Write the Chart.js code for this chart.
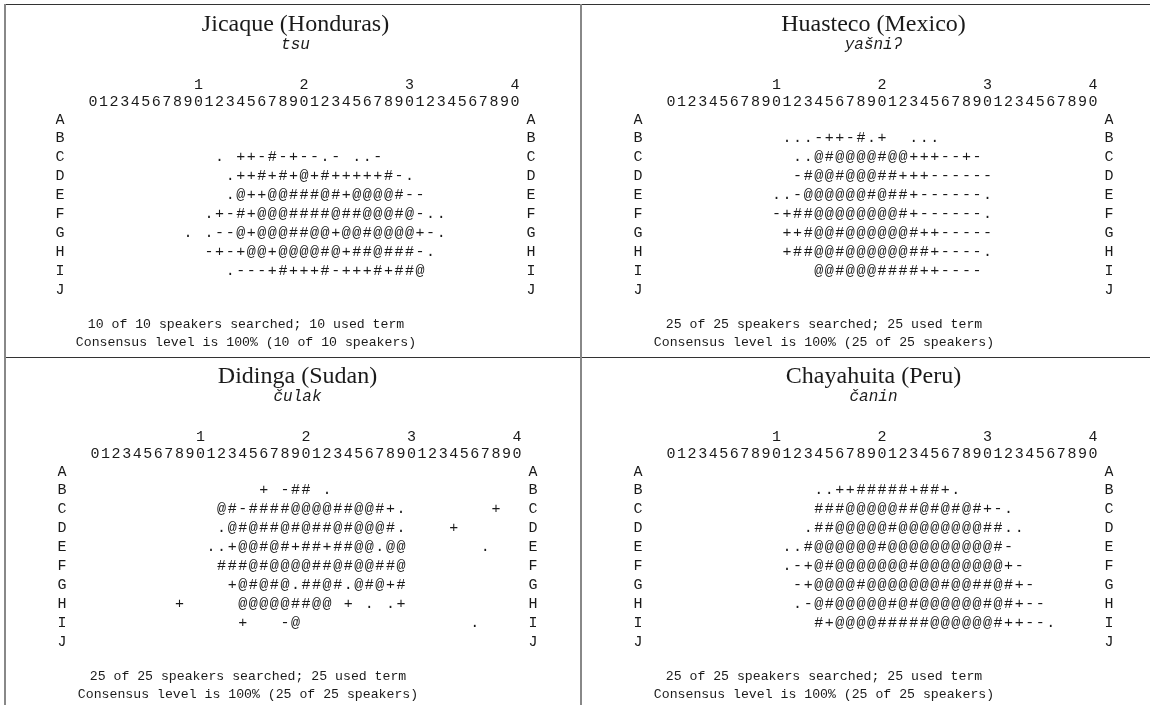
<!DOCTYPE html>
<html><head><meta charset="utf-8">
<script src="https://cdn.jsdelivr.net/npm/chart.js@4.4.1/dist/chart.umd.min.js"></script>
<style>
html,body{margin:0;padding:0;background:#fff;}
#wrap{position:relative;width:1150px;height:705px;overflow:hidden;background:#fff;}
.panel{position:absolute;width:576px;height:352px;}
.panel canvas{display:block;}
.hl{position:absolute;height:1px;background:#333;}
.vl{position:absolute;width:2px;background:#888;}
</style></head><body>
<div id="wrap">
  <div class="panel" style="left:5px;top:5px"><canvas id="c0" width="576" height="352"></canvas></div>
  <div class="panel" style="left:583px;top:5px"><canvas id="c1" width="576" height="352"></canvas></div>
  <div class="panel" style="left:7px;top:357px"><canvas id="c2" width="576" height="352"></canvas></div>
  <div class="panel" style="left:583px;top:357px"><canvas id="c3" width="576" height="352"></canvas></div>
  <div class="hl" style="left:5px;top:4px;width:1145px"></div>
  <div class="hl" style="left:5px;top:357px;width:1145px"></div>
  <div class="vl" style="left:4px;top:4px;height:701px"></div>
  <div class="vl" style="left:580px;top:4px;height:701px"></div>
</div>
<script>
// ---- tick labels ----
const rowLabels = ['A','B','C','D','E','F','G','H','I','J'];
const columnDigits = '01234567890123456789012345678901234567890'.split('');
const decadeColumns = [10, 20, 30, 40];
const decadeLabels = ['1', '2', '3', '4'];

// ---- panel texts ----
const languages = ['Jicaque (Honduras)', 'Huasteco (Mexico)', 'Didinga (Sudan)', 'Chayahuita (Peru)'];
const terms = ['tsu', 'yašniʔ', 'čulak', 'čanin'];
const searchedLines = [
  '10 of 10 speakers searched; 10 used term',
  '25 of 25 speakers searched; 25 used term',
  '25 of 25 speakers searched; 25 used term',
  '25 of 25 speakers searched; 25 used term'
];
const consensusLines = [
  'Consensus level is 100% (10 of 10 speakers)',
  'Consensus level is 100% (25 of 25 speakers)',
  'Consensus level is 100% (25 of 25 speakers)',
  'Consensus level is 100% (25 of 25 speakers)'
];

// ---- grid symbols: one string per row A..J, string index = column 0..40 ----
const jicaqueRows = [
  '',
  '',
  '            . ++-#-+--.- ..-',
  '             .++#+#+@+#+++++#-.',
  '             .@++@@###@#+@@@@#--',
  '           .+-#+@@@####@##@@@#@-..',
  '         . .--@+@@@##@@+@@#@@@@+-.',
  '           -+-+@@+@@@@#@+##@###-.',
  '             .---+#+++#-+++#+##@',
  ''
];
const huastecoRows = [
  '',
  '           ...-++-#.+  ...',
  '            ..@#@@@@#@@+++--+-',
  '            -#@@#@@@##+++------',
  '          ..-@@@@@@#@##+------.',
  '          -+##@@@@@@@@#+------.',
  '           ++#@@#@@@@@@#++-----',
  '           +##@@#@@@@@@##+----.',
  '              @@#@@@####++----',
  ''
];
const didingaRows = [
  '',
  '                + -## .',
  '            @#-####@@@@##@@#+.        +',
  '            .@#@##@#@##@#@@@#.    +',
  '           ..+@@#@#+##+##@@.@@       .',
  '            ###@#@@@@##@#@@##@',
  '             +@#@#@.##@#.@#@+#',
  '        +     @@@@@##@@ + . .+',
  '              +   -@                .',
  ''
];
const chayahuitaRows = [
  '',
  '              ..++#####+##+.',
  '              ###@@@@@##@#@#@#+-.',
  '             .##@@@@@#@@@@@@@@##..',
  '           ..#@@@@@@#@@@@@@@@@@#-',
  '           .-+@#@@@@@@@#@@@@@@@@+-',
  '            -+@@@@#@@@@@@@#@@##@#+-',
  '            .-@#@@@@@#@#@@@@@@#@#+--',
  '              #+@@@@#####@@@@@@#++--.',
  ''
];
const panelRows = [jicaqueRows, huastecoRows, didingaRows, chayahuitaRows];

const MONO = "'Liberation Mono', 'DejaVu Sans Mono', monospace";
const SERIF = "'Liberation Serif', 'DejaVu Serif', serif";
const INK = '#1a1a1a';

const glyphPlugin = {
  id: 'glyphs',
  afterDatasetsDraw(chart) {
    const ctx = chart.ctx;
    const ds = chart.data.datasets[0];
    const meta = chart.getDatasetMeta(0);
    ctx.save();
    ctx.font = '15px ' + MONO;
    ctx.fillStyle = INK;
    ctx.textAlign = 'center';
    ctx.textBaseline = 'middle';
    meta.data.forEach((el, i) => {
      ctx.fillText(ds.data[i].ch, el.x, el.y);
    });
    ctx.restore();
  }
};

const footerPlugin = {
  id: 'footerText',
  afterDraw(chart, args, opts) {
    const ctx = chart.ctx;
    const a = chart.chartArea;
    ctx.save();
    ctx.font = '13.2px ' + MONO;
    ctx.fillStyle = INK;
    ctx.textAlign = 'center';
    ctx.textBaseline = 'middle';
    const cx = a.left + 158.3;
    ctx.fillText(opts.lines[0], cx, a.bottom + 25.9);
    ctx.fillText(opts.lines[1], cx, a.bottom + 43.9);
    ctx.restore();
  }
};

function buildPoints(rows) {
  const pts = [];
  rows.forEach((row, r) => {
    for (let c = 0; c < row.length; c++) {
      const ch = row[c];
      if (ch !== ' ') pts.push({ x: c, y: r, ch: ch });
    }
  });
  return pts;
}

function hiddenGrid() {
  return { display: false, drawTicks: false };
}

function makeChart(idx) {
  const ctx = document.getElementById('c' + idx);
  return new Chart(ctx, {
    type: 'scatter',
    data: {
      datasets: [{
        data: buildPoints(panelRows[idx]),
        pointRadius: 0,
        pointHoverRadius: 0,
        showLine: false,
        xAxisID: 'x',
        yAxisID: 'y'
      }]
    },
    options: {
      responsive: false,
      animation: false,
      events: [],
      layout: { padding: { left: 50.5, right: 45.5, top: 0, bottom: 57.9 } },
      plugins: {
        legend: { display: false },
        tooltip: { enabled: false },
        title: {
          display: true,
          text: languages[idx],
          color: INK,
          font: { family: SERIF, size: 24, weight: 'normal', lineHeight: 1.0 },
          padding: { top: 8, bottom: 0 }
        },
        subtitle: {
          display: true,
          text: terms[idx],
          color: INK,
          font: { family: MONO, size: 16, style: 'italic', weight: 'normal', lineHeight: 1.0 },
          padding: { top: 0, bottom: 24.5 }
        },
        footerText: { lines: [searchedLines[idx], consensusLines[idx]] }
      },
      scales: {
        x: {
          type: 'linear', position: 'top', min: -0.5, max: 40.5, weight: 1,
          grid: hiddenGrid(), border: { display: false },
          afterBuildTicks: s => { s.ticks = columnDigits.map((d, i) => ({ value: i })); },
          afterFit: s => { s.height = 16; },
          ticks: {
            autoSkip: false, maxRotation: 0, minRotation: 0, padding: 1, color: INK,
            font: { family: MONO, size: 15, lineHeight: 1.0 },
            callback: v => columnDigits[v]
          }
        },
        xDecade: {
          type: 'linear', position: 'top', min: -0.5, max: 40.5, weight: 2,
          grid: hiddenGrid(), border: { display: false },
          afterBuildTicks: s => { s.ticks = decadeColumns.map(v => ({ value: v })); },
          afterFit: s => { s.height = 16.6; },
          ticks: {
            autoSkip: false, maxRotation: 0, minRotation: 0, padding: 1.6, color: INK,
            font: { family: MONO, size: 15, lineHeight: 1.0 },
            callback: (v, i) => decadeLabels[i]
          }
        },
        y: {
          type: 'linear', position: 'left', reverse: true, min: -0.5, max: 9.5,
          grid: hiddenGrid(), border: { display: false },
          afterBuildTicks: s => { s.ticks = rowLabels.map((l, i) => ({ value: i })); },
          afterFit: s => { s.width = 32.2; },
          ticks: {
            autoSkip: false, padding: 23.2, color: INK,
            font: { family: MONO, size: 15, lineHeight: 1.0 },
            callback: v => rowLabels[v]
          }
        },
        y2: {
          type: 'linear', position: 'right', reverse: true, min: -0.5, max: 9.5,
          grid: hiddenGrid(), border: { display: false },
          afterBuildTicks: s => { s.ticks = rowLabels.map((l, i) => ({ value: i })); },
          afterFit: s => { s.width = 15.2; },
          ticks: {
            autoSkip: false, padding: 6.2, color: INK,
            font: { family: MONO, size: 15, lineHeight: 1.0 },
            callback: v => rowLabels[v]
          }
        }
      }
    },
    plugins: [glyphPlugin, footerPlugin]
  });
}

[0, 1, 2, 3].forEach(makeChart);
</script>
</body></html>
